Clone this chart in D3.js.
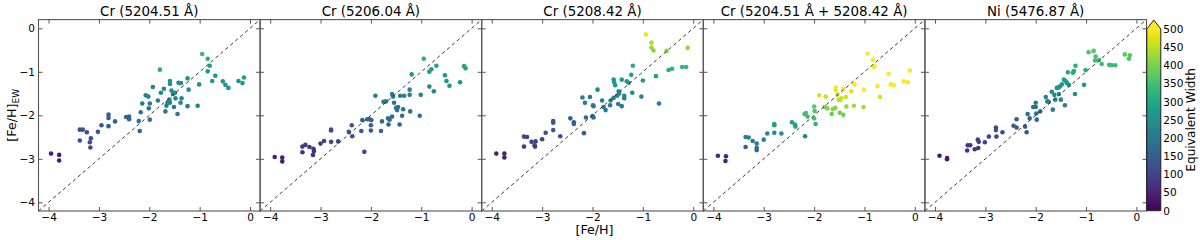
<!DOCTYPE html>
<html>
<head>
<meta charset="utf-8">
<script src="https://cdn.jsdelivr.net/npm/d3@7"></script>
<style>
  body { margin: 0; background: #fff; }
  svg { font-family: "DejaVu Sans", sans-serif; }
</style>
</head>
<body>
<svg width="1200" height="240"></svg>
<script>
// each star: [Fe/H], [Fe/H]_EW, equivalent width
var cr5204 = [
  [-3.95, -2.88, 45], [-3.79, -2.91, 45], [-3.79, -3.04, 40],
  [-3.38, -2.58, 120], [-3.38, -2.33, 125], [-3.32, -2.33, 125], [-3.24, -2.39, 120], [-3.16, -2.53, 115], [-3.18, -2.62, 115], [-3.17, -2.74, 110],
  [-3.02, -2.38, 130], [-2.95, -2.23, 140], [-2.81, -1.98, 150], [-2.81, -2.06, 150], [-2.81, -2.25, 145], [-2.68, -2.14, 155],
  [-2.46, -2.04, 165], [-2.40, -2.03, 165], [-2.40, -2.09, 165], [-2.21, -2.13, 170], [-2.19, -2.36, 160], [-2.17, -1.93, 185], [-2.14, -1.73, 200],
  [-2.07, -1.54, 210], [-2.02, -1.57, 210], [-2.01, -1.84, 195], [-1.99, -1.73, 200], [-1.99, -2.10, 180], [-1.93, -1.35, 225], [-1.83, -1.66, 210],
  [-1.79, -0.95, 310], [-1.77, -1.48, 225], [-1.71, -1.39, 230], [-1.68, -1.91, 200], [-1.66, -1.78, 210], [-1.64, -1.71, 215], [-1.60, -1.64, 220],
  [-1.59, -1.21, 250], [-1.59, -1.28, 245], [-1.59, -1.71, 215], [-1.56, -1.43, 235], [-1.53, -1.51, 230], [-1.51, -1.81, 210], [-1.49, -1.48, 230],
  [-1.48, -1.61, 225], [-1.44, -1.97, 205], [-1.42, -1.25, 245], [-1.37, -1.26, 245], [-1.38, -1.71, 220], [-1.36, -1.61, 225],
  [-1.24, -1.15, 255], [-1.22, -1.41, 240], [-1.24, -1.79, 215], [-1.01, -1.29, 250], [-1.04, -1.78, 220],
  [-0.95, -0.59, 340], [-0.84, -0.70, 310], [-0.84, -0.99, 275], [-0.80, -0.86, 290], [-0.75, -1.21, 260], [-0.69, -1.09, 265],
  [-0.54, -1.22, 265], [-0.49, -1.30, 260], [-0.43, -1.37, 255], [-0.23, -1.21, 270], [-0.15, -1.26, 265], [-0.12, -1.13, 275]
]

var cr5206 = [
  [-3.91, -2.96, 45], [-3.76, -2.97, 45], [-3.76, -3.06, 40],
  [-3.36, -2.85, 75], [-3.36, -2.72, 80], [-3.30, -2.68, 80], [-3.22, -2.73, 75], [-3.14, -2.77, 75], [-3.13, -2.82, 70], [-3.15, -2.91, 70],
  [-3.00, -2.65, 90], [-2.93, -2.59, 95], [-2.79, -2.33, 110], [-2.79, -2.35, 110], [-2.79, -2.61, 100], [-2.65, -2.60, 105],
  [-2.44, -2.38, 125], [-2.38, -2.23, 135], [-2.37, -2.48, 125], [-2.19, -2.36, 140], [-2.13, -2.84, 110], [-2.17, -2.11, 150],
  [-2.07, -2.09, 155], [-2.03, -2.09, 155], [-1.99, -2.11, 155], [-2.00, -2.23, 150], [-2.00, -2.35, 145], [-1.91, -1.55, 210],
  [-1.80, -2.36, 150], [-1.78, -2.14, 165], [-1.75, -1.69, 200], [-1.70, -1.68, 200], [-1.66, -2.07, 170], [-1.65, -2.21, 165],
  [-1.63, -2.10, 170], [-1.58, -2.03, 175], [-1.58, -1.51, 210], [-1.56, -1.57, 205], [-1.54, -1.71, 195], [-1.50, -1.83, 190],
  [-1.48, -1.88, 185], [-1.46, -1.81, 190], [-1.43, -2.21, 165], [-1.42, -1.55, 205], [-1.36, -1.86, 190], [-1.38, -2.01, 180],
  [-1.34, -1.55, 210], [-1.23, -1.53, 215], [-1.23, -1.41, 225], [-1.22, -1.91, 190], [-1.19, -1.06, 260], [-1.03, -2.01, 185],
  [-1.01, -1.53, 220], [-0.95, -0.70, 320], [-0.84, -1.34, 240], [-0.84, -1.00, 275], [-0.80, -0.94, 280], [-0.75, -1.45, 235],
  [-0.70, -0.86, 290], [-0.53, -1.08, 270], [-0.50, -1.21, 260], [-0.44, -1.32, 250], [-0.23, -1.24, 260], [-0.15, -0.87, 300], [-0.12, -0.92, 295]
]

var cr5208 = [
  [-3.91, -2.88, 45], [-3.75, -2.88, 45], [-3.75, -2.97, 40],
  [-3.36, -2.72, 95], [-3.36, -2.49, 100], [-3.30, -2.50, 100], [-3.21, -2.61, 95], [-3.13, -2.60, 95], [-3.15, -2.69, 90], [-3.14, -2.72, 90],
  [-3.00, -2.55, 105], [-2.93, -2.40, 115], [-2.78, -2.13, 135], [-2.78, -2.17, 135], [-2.78, -2.34, 130], [-2.64, -2.48, 125],
  [-2.44, -2.07, 150], [-2.37, -2.16, 150], [-2.37, -2.20, 145], [-2.17, -2.41, 145], [-2.13, -2.05, 170], [-2.20, -1.59, 210],
  [-2.15, -1.71, 200], [-2.05, -1.58, 210], [-1.99, -1.77, 200], [-1.98, -1.79, 195], [-2.00, -2.02, 180], [-1.98, -2.05, 175],
  [-1.90, -1.41, 230], [-1.81, -1.66, 215], [-1.78, -1.81, 205], [-1.74, -1.88, 200], [-1.65, -1.77, 210], [-1.64, -1.66, 215],
  [-1.58, -1.60, 220], [-1.58, -1.18, 270], [-1.57, -1.24, 265], [-1.55, -1.31, 260], [-1.51, -1.55, 230], [-1.48, -1.45, 240],
  [-1.47, -1.50, 235], [-1.49, -1.74, 215], [-1.42, -1.79, 210], [-1.42, -1.18, 275], [-1.37, -1.55, 230], [-1.37, -1.61, 225],
  [-1.32, -1.22, 270], [-1.28, -1.25, 265], [-1.23, -1.07, 285], [-1.21, -1.48, 240], [-1.20, -0.86, 310], [-1.03, -1.57, 230],
  [-1.00, -1.20, 275], [-0.94, -0.14, 490], [-0.83, -0.33, 440], [-0.83, -0.44, 420], [-0.79, -0.51, 410], [-0.74, -1.10, 290],
  [-0.68, -1.73, 220], [-0.53, -0.52, 410], [-0.49, -0.96, 320], [-0.42, -0.93, 325], [-0.22, -0.89, 330], [-0.14, -0.89, 330], [-0.11, -0.45, 420]
]

var crSum = [
  [-3.91, -2.93, 55], [-3.75, -2.94, 50], [-3.76, -3.05, 45],
  [-3.36, -2.73, 150], [-3.36, -2.50, 215], [-3.30, -2.51, 215], [-3.22, -2.59, 205], [-3.14, -2.65, 200], [-3.14, -2.75, 170], [-3.14, -2.80, 165],
  [-3.00, -2.56, 215], [-2.93, -2.42, 230], [-2.79, -2.20, 285], [-2.79, -2.23, 285], [-2.79, -2.40, 240], [-2.65, -2.42, 245],
  [-2.44, -2.16, 290], [-2.38, -2.21, 295], [-2.37, -2.26, 290], [-2.18, -2.48, 230], [-2.19, -1.97, 350], [-2.16, -1.95, 355],
  [-2.13, -2.03, 345], [-2.00, -1.80, 370], [-1.99, -1.90, 360], [-2.00, -2.07, 350], [-1.97, -2.20, 320], [-1.90, -1.54, 470],
  [-1.77, -1.57, 460], [-1.79, -1.81, 400], [-1.74, -1.84, 400], [-1.65, -1.97, 390], [-1.63, -1.86, 410], [-1.58, -1.83, 410],
  [-1.57, -1.36, 500], [-1.57, -1.41, 490], [-1.54, -1.52, 470], [-1.51, -1.64, 450], [-1.48, -1.65, 450], [-1.46, -1.61, 460],
  [-1.49, -1.94, 390], [-1.42, -1.99, 390], [-1.42, -1.39, 500], [-1.37, -1.58, 460], [-1.36, -1.80, 420], [-1.26, -1.45, 480],
  [-1.20, -1.29, 510], [-1.21, -1.78, 430], [-1.02, -1.81, 430], [-1.01, -1.41, 500], [-0.94, -0.58, 550], [-0.83, -0.73, 540],
  [-0.82, -0.89, 520], [-0.80, -0.87, 520], [-0.74, -1.33, 500], [-0.69, -1.58, 470], [-0.52, -1.05, 530], [-0.48, -1.29, 510],
  [-0.42, -1.31, 505], [-0.22, -1.22, 520], [-0.14, -1.24, 515], [-0.10, -0.97, 530]
]

var ni5476 = [
  [-3.91, -2.93, 35], [-3.76, -2.98, 35], [-3.76, -3.01, 35],
  [-3.36, -2.81, 75], [-3.35, -2.69, 80], [-3.30, -2.69, 80], [-3.21, -2.78, 75], [-3.15, -2.56, 90], [-3.13, -2.61, 90], [-3.14, -2.75, 80],
  [-3.01, -2.62, 95], [-2.93, -2.49, 105], [-2.79, -2.28, 120], [-2.79, -2.34, 115], [-2.78, -2.49, 110], [-2.66, -2.39, 120],
  [-2.44, -2.24, 135], [-2.38, -2.09, 145], [-2.38, -2.28, 135], [-2.21, -2.26, 145], [-2.18, -2.39, 140], [-2.16, -1.97, 175],
  [-2.12, -2.07, 165], [-2.05, -1.81, 190], [-2.00, -1.71, 200], [-2.00, -1.81, 190], [-1.99, -1.96, 180], [-1.98, -2.10, 170],
  [-1.91, -1.91, 185], [-1.80, -1.58, 215], [-1.77, -1.68, 210], [-1.74, -1.69, 210], [-1.66, -1.87, 200], [-1.68, -1.46, 240],
  [-1.63, -1.53, 235], [-1.61, -1.64, 225], [-1.58, -1.37, 255], [-1.56, -1.37, 255], [-1.54, -1.51, 240], [-1.52, -1.34, 260],
  [-1.50, -1.64, 230], [-1.48, -1.29, 265], [-1.44, -1.18, 280], [-1.42, -1.77, 220], [-1.40, -1.22, 275], [-1.38, -1.26, 270],
  [-1.36, -1.01, 300], [-1.34, -1.30, 265], [-1.26, -1.02, 300], [-1.24, -0.98, 305], [-1.21, -0.86, 320], [-1.22, -1.51, 245],
  [-1.04, -1.30, 270], [-1.01, -0.96, 310], [-0.95, -0.55, 360], [-0.85, -0.52, 365], [-0.81, -0.65, 355], [-0.82, -0.74, 345],
  [-0.74, -0.73, 350], [-0.69, -0.82, 340], [-0.54, -0.84, 345], [-0.49, -0.85, 340], [-0.42, -0.85, 340], [-0.23, -0.60, 370],
  [-0.15, -0.70, 365], [-0.13, -0.62, 370]
]

var titles = ['Cr (5204.51 Å)', 'Cr (5206.04 Å)', 'Cr (5208.42 Å)', 'Cr (5204.51 Å + 5208.42 Å)', 'Ni (5476.87 Å)']
var panels = [cr5204, cr5206, cr5208, crSum, ni5476]
var axisTicks = [-4, -3, -2, -1, 0]
var cbTicks = [0, 50, 100, 150, 200, 250, 300, 350, 400, 450, 500]

var margin = {top: 19.6, left: 38.5}
var panelW = 221.6
var panelH = 191.4
var frameColor = '#555'
var fmt = d3.format('d')

var xScale = d3.scaleLinear().domain([-4.2, 0.2]).range([0, panelW])
var yScale = d3.scaleLinear().domain([-4.2, 0.2]).range([panelH, 0])
var color = d3.scaleSequential(d3.interpolateViridis).domain([0, 500]).clamp(true)

var svg = d3.select('svg')

function styleAxis(g) {
  g.attr('color', frameColor).attr('font-family', null).attr('font-size', null)
  g.select('.domain').remove()
  g.selectAll('text').attr('fill', '#000').style('font-size', '10.5px')
}

panels.forEach(function(data, i) {
  var g = svg.append('g')
    .attr('transform', 'translate(' + [margin.left + i * panelW, margin.top] + ')')

  g.selectAll('circle')
    .data(data)
    .enter().append('circle')
    .attr('cx', d => xScale(d[0]))
    .attr('cy', d => yScale(d[1]))
    .attr('r', 2.3)
    .attr('fill', d => color(d[2]))

  // one-to-one line
  g.append('line')
    .attr('x1', xScale(-4.2)).attr('y1', yScale(-4.2))
    .attr('x2', xScale(0.2)).attr('y2', yScale(0.2))
    .attr('stroke', '#222')
    .attr('stroke-width', 0.9)
    .attr('stroke-dasharray', '3.5,3')

  g.append('g')
    .attr('transform', 'translate(0,' + panelH + ')')
    .call(d3.axisBottom(xScale).tickValues(axisTicks).tickFormat(fmt).tickSizeInner(-4).tickSizeOuter(0).tickPadding(3))
    .call(styleAxis)
  g.append('g')
    .call(d3.axisTop(xScale).tickValues(axisTicks).tickSizeInner(-4).tickSizeOuter(0).tickFormat(''))
    .call(styleAxis)
  g.append('g')
    .call(d3.axisLeft(yScale).tickValues(axisTicks).tickSizeInner(-4).tickSizeOuter(0).tickPadding(3.5)
      .tickFormat(i == 0 ? fmt : ''))
    .call(styleAxis)
  g.append('g')
    .attr('transform', 'translate(' + panelW + ',0)')
    .call(d3.axisRight(yScale).tickValues(axisTicks).tickSizeInner(-4).tickSizeOuter(0).tickFormat(''))
    .call(styleAxis)

  g.append('rect')
    .attr('width', panelW).attr('height', panelH)
    .attr('fill', 'none')
    .attr('stroke', frameColor)
    .attr('stroke-width', 1.1)

  g.append('text')
    .attr('x', panelW / 2).attr('y', -3.3)
    .attr('text-anchor', 'middle')
    .style('font-size', '13.4px')
    .text(titles[i])
})

// axis labels
svg.append('text')
  .attr('x', margin.left + 2.5 * panelW + 2).attr('y', 234)
  .attr('text-anchor', 'middle')
  .style('font-size', '12.7px')
  .text('[Fe/H]')

var ylab = svg.append('text')
  .attr('transform', 'translate(16,' + (margin.top + panelH / 2) + ') rotate(-90)')
  .attr('text-anchor', 'middle')
  .style('font-size', '12.7px')
ylab.append('tspan').text('[Fe/H]')
ylab.append('tspan').attr('dy', 3).style('font-size', '9px').text('EW')

// colorbar
var cbX = margin.left + 5 * panelW + 0.3
var cbW = 14
var cbScale = d3.scaleLinear().domain([0, 500]).range([margin.top + panelH - 0.3, 29])
var cbTop = cbScale(500)
var cbBot = cbScale(0)

var grad = svg.append('defs').append('linearGradient')
  .attr('id', 'viridis')
  .attr('x1', 0).attr('y1', 1).attr('x2', 0).attr('y2', 0)
grad.selectAll('stop')
  .data(d3.range(0, 1.0001, 0.05))
  .enter().append('stop')
  .attr('offset', d => d)
  .attr('stop-color', d => d3.interpolateViridis(d))

svg.append('rect')
  .attr('x', cbX).attr('y', cbTop)
  .attr('width', cbW).attr('height', cbBot - cbTop)
  .attr('fill', 'url(#viridis)')

var outline = 'M' + [cbX, cbBot] + 'L' + [cbX, cbTop] + 'L' + [cbX + cbW / 2, margin.top + 0.4] +
  'L' + [cbX + cbW, cbTop] + 'L' + [cbX + cbW, cbBot] + 'Z'
svg.append('path')
  .attr('d', 'M' + [cbX, cbTop] + 'L' + [cbX + cbW / 2, margin.top + 0.4] + 'L' + [cbX + cbW, cbTop] + 'Z')
  .attr('fill', color(500))
svg.append('path')
  .attr('d', outline)
  .attr('fill', 'none')
  .attr('stroke', '#222')
  .attr('stroke-width', 1)

svg.append('g')
  .attr('transform', 'translate(' + (cbX + cbW) + ',0)')
  .call(d3.axisRight(cbScale).tickValues(cbTicks).tickSize(0).tickPadding(2.5))
  .call(styleAxis)

svg.append('text')
  .attr('transform', 'translate(1195,' + (cbTop + cbBot) / 2 + ') rotate(-90)')
  .attr('text-anchor', 'middle')
  .style('font-size', '12.2px')
  .text('Equivalent Width')
</script>
</body>
</html>
